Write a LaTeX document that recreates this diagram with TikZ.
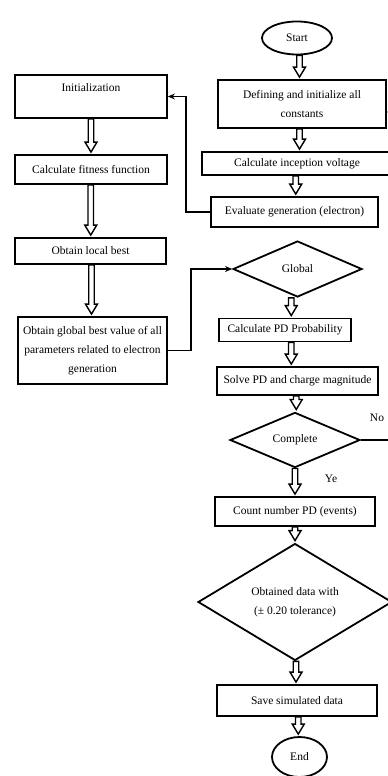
\documentclass[tikz,border=0pt]{standalone}
\usepackage{fontspec}
\setmainfont{Liberation Serif}
\usetikzlibrary{shapes.geometric,calc,arrows.meta}

% hollow down arrow between two nodes
\newcommand{\hollowdown}[2]{%
  \draw[line width=1.4pt, fill=white] let \p1=(#1.south), \p2=(#2.north) in
    ({(\x1+\x2)/2-2.75pt},\y1) -- ({(\x1+\x2)/2+2.75pt},\y1) -- ({(\x1+\x2)/2+2.75pt},\y2+12pt)
    -- ({(\x1+\x2)/2+6pt},\y2+12pt) -- ({(\x1+\x2)/2},\y2+2pt) -- ({(\x1+\x2)/2-6pt},\y2+12pt)
    -- ({(\x1+\x2)/2-2.75pt},\y2+12pt) -- cycle;}

\begin{document}
\begin{tikzpicture}[x=1pt, y=-1pt, >={Stealth[length=7pt,width=6pt]},
  box/.style={draw, line width=1.8pt, font=\fontsize{11.5}{19}\selectfont, align=center, inner sep=2pt},
  dec/.style={draw, diamond, line width=1.8pt, font=\fontsize{11.5}{19}\selectfont, align=center, inner sep=0pt},
  term/.style={draw, ellipse, line width=1.8pt, font=\fontsize{11.5}{19}\selectfont, inner sep=0pt},
  link/.style={->, line width=1.7pt}]
  \useasboundingbox (0,0) rectangle (388,776);
  \clip (0,0) rectangle (388,776);

  % main column
  \node[term, minimum width=70pt, minimum height=33pt] (start) at (297,38) {Start};
  \node[box, minimum width=168pt, minimum height=48pt] (define) at (302,104) {Defining and initialize all\\constants};
  \node[box, minimum width=190pt, minimum height=23pt] (incep) at (297,163.5) {Calculate inception voltage};
  \node[box, minimum width=167pt, minimum height=30pt] (evalg) at (294.5,212) {Evaluate generation (electron)};
  \node[dec, minimum width=129pt, minimum height=56pt] (global) at (297.5,269) {Global};
  \node[box, minimum width=132pt, minimum height=23pt] (prob) at (285,330) {Calculate PD Probability};
  \node[box, minimum width=161pt, minimum height=28pt] (solve) at (297.5,381) {Solve PD and charge magnitude};
  \node[dec, minimum width=130pt, minimum height=55pt] (complete) at (295,440) {Complete};
  \node[box, minimum width=160pt, minimum height=29pt] (count) at (295,511.5) {Count number PD (events)};
  \node[dec, minimum width=194pt, minimum height=110pt] (obtain) at (295,602) {Obtained data with\\(± 0.20 tolerance)};
  \node[box, minimum width=160pt, minimum height=31pt] (save) at (297,700.5) {Save simulated data};
  \node[term, minimum width=55pt, minimum height=40pt] (stop) at (299.5,757) {End};

  % optimisation column
  \node[box, minimum width=152pt, minimum height=43pt, text height=9pt, text depth=18pt, inner ysep=8pt] (init) at (91,96.5) {Initialization};
  \node[box, minimum width=152pt, minimum height=29pt] (fitness) at (91,169.5) {Calculate fitness function};
  \node[box, minimum width=151pt, minimum height=26pt] (local) at (90.5,251) {Obtain local best};
  \node[box, minimum width=149pt, minimum height=67pt] (gbest) at (92.5,350.5) {Obtain global best value of all\\parameters related to electron\\generation};

  \hollowdown{start}{define}
  \hollowdown{define}{incep}
  \hollowdown{incep}{evalg}
  \hollowdown{global}{prob}
  \hollowdown{prob}{solve}
  \hollowdown{solve}{complete}
  \hollowdown{complete}{count}
  \hollowdown{count}{obtain}
  \hollowdown{obtain}{save}
  \hollowdown{save}{stop}
  \hollowdown{init}{fitness}
  \hollowdown{fitness}{local}
  \hollowdown{local}{gbest}

  \draw[link] (evalg.west) -- ++(-24,0) |- (init.east);
  \draw[link] (gbest.east) -- ++(23,0) |- (global.west);
  \draw[link] (complete.east) -- ++(110,0) |- ($(define.east)+(0,8)$);

  \node[font=\fontsize{11.5}{14}\selectfont] (no) at (377,418) {No};
  \node[font=\fontsize{11.5}{14}\selectfont] (ye) at (331,479) {Ye};
\end{tikzpicture}
\end{document}
